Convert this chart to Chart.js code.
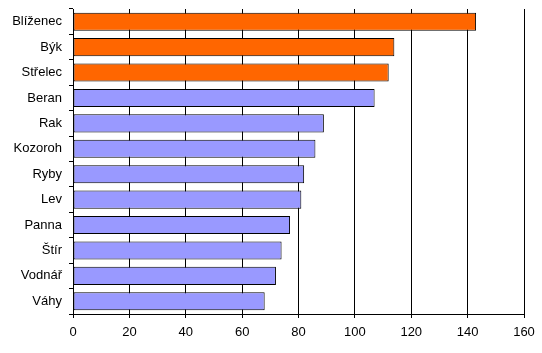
<!DOCTYPE html>
<html>
<head>
<meta charset="utf-8">
<script src="https://cdn.jsdelivr.net/npm/chart.js@4"></script>
<style>
  html, body { margin: 0; padding: 0; background: #fff; }
  #wrap { width: 542px; height: 353px; }
</style>
</head>
<body>
<div id="wrap"><canvas id="signChart"></canvas></div>
<script>
const signs = ["Blíženec", "Býk", "Střelec", "Beran", "Rak", "Kozoroh", "Ryby", "Lev", "Panna", "Štír", "Vodnář", "Váhy"];
const counts = [143, 114, 112, 107, 89, 86, 82, 81, 77, 74, 72, 68];
const xTicks = [0, 20, 40, 60, 80, 100, 120, 140, 160];
const highlighted = 3; // first three bars are orange

const barColors = counts.map((v, i) => i < highlighted ? "#FF6600" : "#9999FF");

const ctx = document.getElementById("signChart").getContext("2d");

new Chart(ctx, {
    type: "bar",
    data: {
        labels: signs,
        datasets: [{
            data: counts,
            backgroundColor: barColors,
            borderColor: "#000",
            borderWidth: 1,
            borderSkipped: false,
            categoryPercentage: 0.71,
            barPercentage: 1
        }]
    },
    options: {
        indexAxis: "y",
        responsive: true,
        maintainAspectRatio: false,
        animation: false,
        layout: {
            padding: { top: 9, right: 18, bottom: 9, left: 0 }
        },
        scales: {
            x: {
                min: 0,
                max: 160,
                afterBuildTicks: scale => { scale.ticks = xTicks.map(v => ({ value: v })); },
                afterFit: scale => { scale.height = 30; },
                ticks: {
                    color: "#000",
                    padding: 7,
                    font: { family: "Liberation Sans, Arial, sans-serif", size: 13 }
                },
                grid: {
                    color: "#000",
                    lineWidth: 1,
                    tickLength: 4
                },
                border: { color: "#000", width: 1 }
            },
            y: {
                afterFit: scale => {
                    scale.width = 73;
                    scale.paddingTop = 0;
                    scale.paddingBottom = 0;
                },
                ticks: {
                    color: "#000",
                    padding: 7,
                    font: { family: "Liberation Sans, Arial, sans-serif", size: 13 }
                },
                grid: {
                    offset: true,
                    drawOnChartArea: false,
                    color: "#000",
                    tickLength: 4
                },
                border: { color: "#000", width: 1 }
            }
        },
        plugins: {
            legend: { display: false },
            tooltip: { enabled: false }
        }
    }
});
</script>
</body>
</html>
